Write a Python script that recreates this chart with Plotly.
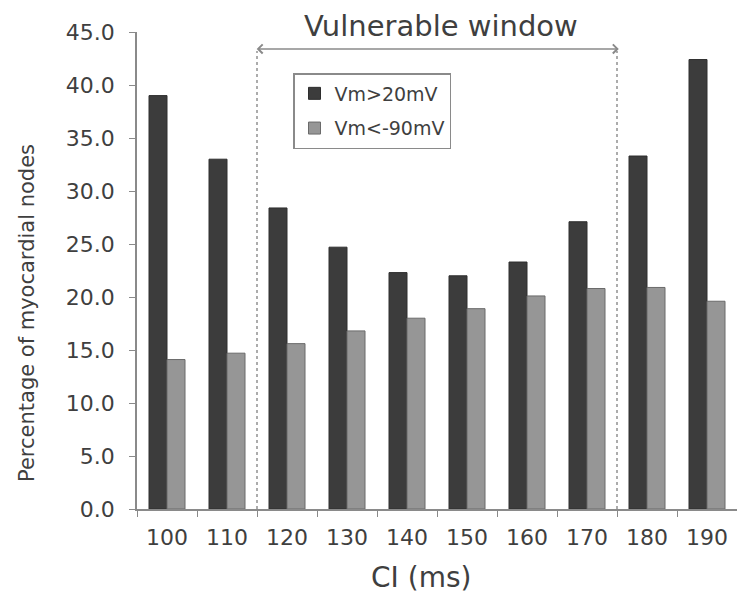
import plotly.graph_objects as go

categories = ["100", "110", "120", "130", "140", "150", "160", "170", "180", "190"]
vm_high = [39.0, 33.0, 28.4, 24.7, 22.3, 22.0, 23.3, 27.1, 33.3, 42.4]
vm_low = [14.1, 14.7, 15.6, 16.8, 18.0, 18.9, 20.1, 20.8, 20.9, 19.6]
y_ticks = [0, 5, 10, 15, 20, 25, 30, 35, 40, 45]
y_ticklabels = ["%.1f" % v for v in y_ticks]

FONT = "DejaVu Sans, Liberation Sans, Arial, sans-serif"
TXT = "#3f3f3f"

fig = go.Figure()
fig.add_trace(go.Bar(x=categories, y=vm_high, name="Vm>20mV", legendgroup="a",
                     marker=dict(color="#3c3c3c", line=dict(color="#2e2e2e", width=1))))
fig.add_trace(go.Bar(x=categories, y=vm_low, name="Vm<-90mV", legendgroup="b",
                     marker=dict(color="#969696", line=dict(color="#6a6a6a", width=1))))

# dotted lines bounding vulnerable window
for xb in (1.5, 7.5):
    fig.add_shape(type="line", xref="x", yref="y", x0=xb, x1=xb, y0=0, y1=43.2,
                  line=dict(color="#808080", width=1.3, dash="dot"))

# double-headed arrow
fig.add_annotation(x=7.53, y=43.4, ax=1.47, ay=43.4, xref="x", yref="y", axref="x", ayref="y",
                   showarrow=True, arrowhead=4, startarrowhead=4, arrowside="end+start",
                   arrowwidth=1.6, arrowsize=1.1, startarrowsize=1.1, arrowcolor="#8a8a8a", text="")
fig.add_annotation(x=(441 - 137) / 600, y=(509 - 26) / 477, xref="paper", yref="paper",
                   yanchor="middle", xanchor="center", text="Vulnerable window", showarrow=False,
                   font=dict(family=FONT, size=29, color=TXT))

# axis titles (placed as in the original, offset from plot centre)
fig.add_annotation(x=(421 - 137) / 600, y=(509 - 577) / 477, xref="paper", yref="paper",
                   xanchor="center", yanchor="middle", text="CI (ms)", showarrow=False,
                   font=dict(family=FONT, size=28, color=TXT))
fig.add_annotation(x=(27 - 137) / 600, y=(509 - 313) / 477, xref="paper", yref="paper",
                   xanchor="center", yanchor="middle", textangle=-90,
                   text="Percentage of myocardial nodes", showarrow=False,
                   font=dict(family=FONT, size=21, color=TXT))

fig.update_layout(
    width=737, height=594,
    margin=dict(l=137, r=0, t=32, b=85),
    paper_bgcolor="white", plot_bgcolor="white",
    barmode="group", bargap=0.4, bargroupgap=0,
    font=dict(family=FONT, color=TXT),
    showlegend=True,
    legend=dict(x=(293 - 137) / 600, y=(509 - 73) / 477, xanchor="left", yanchor="top",
                bordercolor="#8a8a8a", borderwidth=1.5, bgcolor="white",
                font=dict(family=FONT, size=19, color=TXT),
                itemwidth=30, tracegroupgap=7),
    xaxis=dict(type="category", showline=True, linecolor="#8a8a8a", linewidth=1.5,
               ticks="outside", tickson="boundaries", ticklen=6, tickcolor="#8a8a8a",
               ticklabelstandoff=8,
               tickfont=dict(family=FONT, size=22, color=TXT),
               showgrid=False, zeroline=False),
    yaxis=dict(range=[0, 45], tickvals=y_ticks, ticktext=y_ticklabels,
               showline=True, linecolor="#8a8a8a", linewidth=1.5,
               ticks="outside", ticklen=6, tickcolor="#8a8a8a",
               ticklabelstandoff=10,
               tickfont=dict(family=FONT, size=22, color=TXT),
               showgrid=False, zeroline=False),
)

fig.write_html("out.html")
